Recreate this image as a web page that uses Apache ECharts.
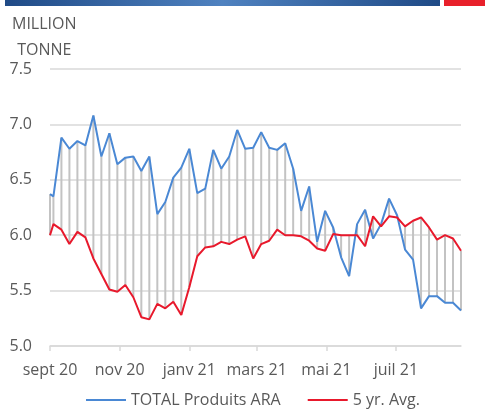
<!DOCTYPE html>
<html>
<head>
<meta charset="utf-8">
<script src="https://cdn.jsdelivr.net/npm/echarts@6/dist/echarts.min.js"></script>
<style>
  html, body { margin: 0; padding: 0; background: #fff; }
  #chart { width: 485px; height: 420px; }
</style>
</head>
<body>
<div id="chart"></div>
<script>
// weekly stocks, million tonne
const dates = [
  '2020-09-01', '2020-09-04', '2020-09-11', '2020-09-18', '2020-09-25',
  '2020-10-02', '2020-10-09', '2020-10-16', '2020-10-23', '2020-10-30',
  '2020-11-06', '2020-11-13', '2020-11-20', '2020-11-27',
  '2020-12-04', '2020-12-11', '2020-12-18', '2020-12-25',
  '2021-01-01', '2021-01-08', '2021-01-15', '2021-01-22', '2021-01-29',
  '2021-02-05', '2021-02-12', '2021-02-19', '2021-02-26',
  '2021-03-05', '2021-03-12', '2021-03-19', '2021-03-26',
  '2021-04-02', '2021-04-09', '2021-04-16', '2021-04-23', '2021-04-30',
  '2021-05-07', '2021-05-14', '2021-05-21', '2021-05-28',
  '2021-06-04', '2021-06-11', '2021-06-18', '2021-06-25',
  '2021-07-02', '2021-07-09', '2021-07-16', '2021-07-23', '2021-07-30',
  '2021-08-06', '2021-08-13', '2021-08-20', '2021-08-27'
];
const totalAra = [
  6.37, 6.35, 6.88, 6.78, 6.85,
  6.81, 7.08, 6.71, 6.92, 6.64,
  6.70, 6.71, 6.58, 6.71,
  6.19, 6.30, 6.52, 6.61,
  6.78, 6.38, 6.42, 6.77, 6.60,
  6.71, 6.95, 6.78, 6.79,
  6.93, 6.79, 6.77, 6.83,
  6.60, 6.22, 6.44, 5.94, 6.22,
  6.07, 5.80, 5.63, 6.10,
  6.23, 5.97, 6.10, 6.33,
  6.18, 5.87, 5.78, 5.34, 5.45,
  5.45, 5.39, 5.39, 5.32
];
const fiveYrAvg = [
  6.00, 6.10, 6.05, 5.92, 6.03,
  5.98, 5.79, 5.65, 5.51, 5.49,
  5.55, 5.44, 5.26, 5.24,
  5.38, 5.34, 5.40, 5.28,
  5.53, 5.81, 5.89, 5.90, 5.94,
  5.92, 5.96, 5.99, 5.79,
  5.92, 5.95, 6.05, 6.00,
  6.00, 5.99, 5.95, 5.88, 5.86,
  6.01, 6.00, 6.00, 6.00,
  5.90, 6.17, 6.08, 6.17,
  6.16, 6.08, 6.13, 6.16, 6.07,
  5.96, 6.00, 5.97, 5.86
];
const tickDates = ['2020-09-01', '2020-11-01', '2021-01-01', '2021-03-01', '2021-05-01', '2021-07-01'];
const tickLabels = ['sept 20', 'nov 20', 'janv 21', 'mars 21', 'mai 21', 'juil 21'];

const FONT = '"Open Sans", sans-serif';
const GREY_TEXT = '#595959';

function toTime(s) {
  const p = s.split('-');
  return new Date(+p[0], +p[1] - 1, +p[2]).getTime();
}
const tickTimes = tickDates.map(toTime);

const chart = echarts.init(document.getElementById('chart'));
chart.setOption({
  animation: false,
  textStyle: { fontFamily: FONT },
  graphic: [
    {
      type: 'rect', left: 5, top: 0, shape: { width: 435, height: 6 },
      style: {
        fill: new echarts.graphic.LinearGradient(0, 0, 1, 0, [
          { offset: 0, color: '#1f4a86' },
          { offset: 0.5, color: '#4f82c0' },
          { offset: 1, color: '#1f4a86' }
        ])
      }
    },
    { type: 'rect', left: 444, top: 0, shape: { width: 41, height: 6 }, style: { fill: '#e8202a' } },
    {
      type: 'text', left: 12, top: 11,
      style: {
        text: 'MILLION\nTONNE', font: '16px ' + FONT, fill: GREY_TEXT,
        textAlign: 'center', lineHeight: 26
      }
    }
  ],
  grid: { left: 50, right: 24, top: 69, bottom: 74 },
  legend: {
    left: 81, top: 387,
    icon: 'rect', itemWidth: 40, itemHeight: 2, itemGap: 27,
    textStyle: { fontSize: 16, color: GREY_TEXT, fontFamily: FONT },
    data: ['TOTAL Produits ARA', '5 yr. Avg.']
  },
  xAxis: {
    type: 'value',
    min: toTime(dates[0]),
    max: toTime(dates[dates.length - 1]),
    axisLine: { lineStyle: { color: '#d9d9d9', width: 1.5 } },
    axisTick: { show: true, customValues: tickTimes, length: 5, lineStyle: { color: '#d9d9d9', width: 1.5 } },
    axisLabel: {
      customValues: tickTimes,
      fontSize: 16, color: GREY_TEXT, fontFamily: FONT, margin: 16,
      formatter: function (v) {
        const i = tickTimes.indexOf(v);
        return i >= 0 ? tickLabels[i] : '';
      }
    },
    splitLine: { show: false }
  },
  yAxis: {
    type: 'value', min: 5, max: 7.5, interval: 0.5,
    axisLine: { show: false }, axisTick: { show: false },
    axisLabel: {
      fontSize: 16, color: GREY_TEXT, fontFamily: FONT, margin: 18,
      formatter: function (v) { return v.toFixed(1); }
    },
    splitLine: { lineStyle: { color: '#d9d9d9', width: 1.5 } }
  },
  series: [
    {
      name: 'high-low',
      type: 'custom',
      z: 1,
      encode: { x: 0, y: [1, 2] },
      data: dates.map((d, i) => [toTime(d), totalAra[i], fiveYrAvg[i]]),
      renderItem: function (params, api) {
        const a = api.coord([api.value(0), api.value(1)]);
        const b = api.coord([api.value(0), api.value(2)]);
        return {
          type: 'line',
          shape: { x1: a[0], y1: a[1], x2: b[0], y2: b[1] },
          style: { stroke: '#c3c3c3', lineWidth: 2 }
        };
      }
    },
    {
      name: 'TOTAL Produits ARA',
      type: 'line', z: 3,
      showSymbol: false,
      data: dates.map((d, i) => [toTime(d), totalAra[i]]),
      itemStyle: { color: '#4a88d4' },
      lineStyle: { color: '#4a88d4', width: 2 }
    },
    {
      name: '5 yr. Avg.',
      type: 'line', z: 3,
      showSymbol: false,
      data: dates.map((d, i) => [toTime(d), fiveYrAvg[i]]),
      itemStyle: { color: '#e8192c' },
      lineStyle: { color: '#e8192c', width: 2 }
    }
  ]
});
</script>
</body>
</html>
